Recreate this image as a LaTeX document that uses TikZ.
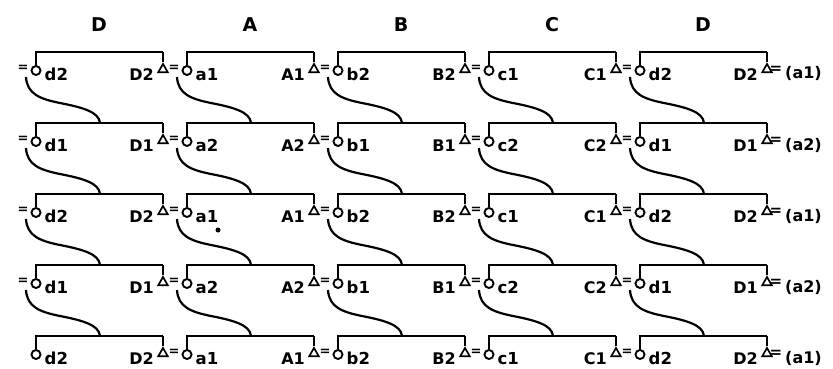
\documentclass[tikz,border=0pt]{standalone}
\usepackage{fontspec}
\setmainfont{DejaVu Sans}
\usetikzlibrary{shapes.geometric,calc}
\begin{document}
\begin{tikzpicture}[x=1pt,y=-1pt,
  brk/.style={line width=2.8pt},
  tickln/.style={line width=2pt},
  ring/.style={circle,draw,line width=1.9pt,minimum size=9pt,inner sep=0pt},
  tri/.style={regular polygon,regular polygon sides=3,draw,line width=1.7pt,minimum size=11pt,inner sep=0pt},
  curv/.style={line width=2.2pt},
  lab/.style={font=\fontsize{16.5}{16.5}\selectfont\bfseries,inner sep=0pt},
  caplab/.style={font=\fontsize{16}{16}\selectfont\bfseries,inner sep=0pt},
  eqs/.style={font=\fontsize{13}{13}\selectfont\bfseries,inner sep=0pt},
  eqb/.style={font=\fontsize{15}{15}\selectfont\bfseries,inner sep=0pt},
  head/.style={font=\fontsize{19}{19}\selectfont\bfseries,inner sep=0pt}]
\useasboundingbox (0,0) rectangle (833,369);
% headers
\foreach \k/\uc in {0/D,1/A,2/B,3/C,4/D}{
  \pgfmathsetmacro\xs{35+151*\k}
  \node[head] (h-\k) at (\xs+64,25) {\uc};
}
% rows
\foreach \j in {0,...,4}{
  \pgfmathsetmacro\yb{52+71*\j}
  \pgfmathtruncatemacro\m{mod(\j,2)==0 ? 1 : 2}
  \foreach \k/\lc/\uc in {0/d/D,1/a/A,2/b/B,3/c/C,4/d/D}{
    \pgfmathsetmacro\xs{35+151*\k}
    \pgfmathsetmacro\xe{\xs+128}
    \pgfmathtruncatemacro\n{mod(\j+\k,2)==0 ? 2 : 1}
    \coordinate (bl-\j-\k) at (\xs,\yb);
    \coordinate (br-\j-\k) at (\xe,\yb);
    \coordinate (bm-\j-\k) at (\xs+65,\yb);
    \coordinate (cs-\j-\k) at (\xs-9,\yb+25);
    \node[ring] (o-\j-\k) at (\xs+1,\yb+18.5) {};
    \node[tri] (t-\j-\k) at (\xe,\yb+17.5) {};
    \draw[brk] (bl-\j-\k) -- (br-\j-\k);
    \draw[tickln] (o-\j-\k.north) -- (o-\j-\k.north |- bl-\j-\k);
    \draw[tickln] (t-\j-\k.corner 1) -- (br-\j-\k);
    \node[lab,anchor=base west] (l-\j-\k) at (\xs+9.5,\yb+28.5) {\lc\n};
    \node[caplab,anchor=base east] (u-\j-\k) at (\xe-9,\yb+28.5) {\uc\n};
    \ifnum\j=4 \ifnum\k=0 \else
      \node[eqs] (e-\j-\k) at (\xs-12,\yb+16.5) {=};
    \fi \else
      \node[eqs] (e-\j-\k) at (\xs-12,\yb+16.5) {=};
    \fi
  }
  \node[eqb] (ee-\j) at (776,\yb+18) {=};
  \node[caplab,anchor=base west] (end-\j) at (785,\yb+27) {(a\m)};
}
% connecting curves
\foreach \j in {0,...,3}{
  \pgfmathtruncatemacro\jn{\j+1}
  \foreach \k in {0,...,4}{
    \draw[curv] (cs-\j-\k) .. controls ($(cs-\j-\k)+(1,17)$) and ($(cs-\j-\k)+(14,22)$) .. ($(cs-\j-\k)+(34,26)$)
      .. controls ($(cs-\j-\k)+(57,30.5)$) and ($(bm-\jn-\k)+(-1,-11)$) .. (bm-\jn-\k);
  }
}
\node[circle,fill,inner sep=0pt,minimum size=5pt] (dot) at (218,230) {};
\end{tikzpicture}
\end{document}
